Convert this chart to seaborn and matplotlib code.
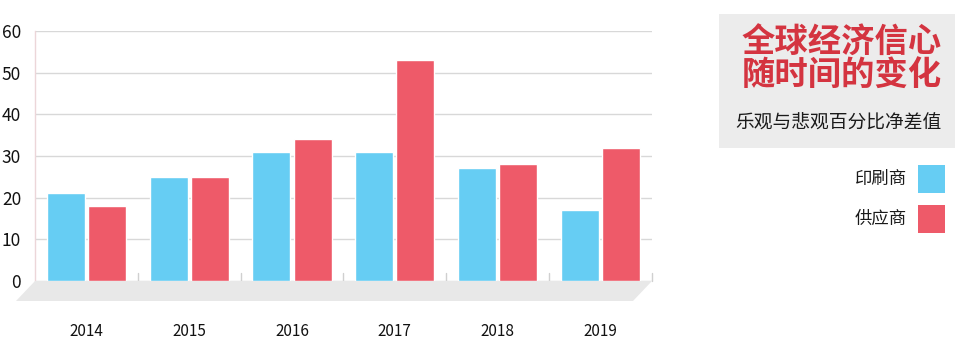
import pandas as pd
import matplotlib.pyplot as plt
import seaborn as sns
from matplotlib.patches import Polygon, Rectangle

years = ["2014", "2015", "2016", "2017", "2018", "2019"]
printers = [21, 25, 31, 31, 27, 17]
suppliers = [18, 25, 34, 53, 28, 32]
series_names = ["印刷商", "供应商"]
yticks = [0, 10, 20, 30, 40, 50, 60]

blue = "#66cdf3"
red = "#ee5a69"

sns.set_theme(style="white")
plt.rcParams['font.family'] = ['Noto Sans CJK SC', 'DejaVu Sans']

df = pd.DataFrame({
    "year": years * 2,
    "value": printers + suppliers,
    "series": [series_names[0]] * len(years) + [series_names[1]] * len(years),
})

fig = plt.figure(figsize=(9.58, 3.62), dpi=100)
ax = fig.add_axes([0.0365, 0.2238, 0.644, 0.6906])

# floor under the bars
floor = Polygon([(35, 81), (652, 81), (633, 61), (16, 61)], closed=True,
                transform=None, facecolor="#e8e8e8", edgecolor="none", zorder=0)
fig.patches.append(floor)

sns.barplot(data=df, x="year", y="value", hue="series", palette=[blue, red],
            width=0.8, gap=0.075, saturation=1, legend=False, ax=ax, zorder=3)

ax.set_xlim(-0.5, 5.5)
ax.set_ylim(0, 60)
ax.set_yticks(yticks)
ax.yaxis.grid(True, color="#d8d8d8", linewidth=1)
ax.set_axisbelow(True)
for s in ["top", "right", "bottom"]:
    ax.spines[s].set_visible(False)
ax.spines["left"].set_color("#ecd6d9")
ax.spines["left"].set_linewidth(1)
ax.tick_params(axis="y", length=0, pad=10, labelsize=12.5, labelcolor="#111111")
ax.tick_params(axis="x", length=0, pad=30, labelsize=11, labelcolor="#111111")
for lab in ax.get_xticklabels() + ax.get_yticklabels():
    lab.set_fontweight("medium")
ax.set_xlabel("")
ax.set_ylabel("")

# little separators between groups
for i in range(len(years)):
    ax.plot([i + 0.5, i + 0.5], [0, 2], color="#d0d0d0", lw=1, zorder=2, clip_on=False)

# title box
fig.patches.append(Rectangle((0.7505, 0.591), 0.2463, 0.370, transform=fig.transFigure,
                             facecolor="#ececec", edgecolor="none", zorder=0))
fig.text(0.879, 0.835, "全球经济信心\n随时间的变化", color="#d43440", fontsize=24,
         fontweight="heavy", ha="center", va="center", linespacing=0.98)
fig.text(0.8755, 0.663, "乐观与悲观百分比净差值", color="#1a1a1a", fontsize=13.5,
         ha="center", va="center")

# legend
colors = [blue, red]
ys = [179, 219]
for name, c, y in zip(series_names, colors, ys):
    yf = (362 - y) / 362
    fig.patches.append(Rectangle((918 / 958, yf - 14 / 362), 27 / 958, 28 / 362,
                                 transform=fig.transFigure, facecolor=c, edgecolor="none"))
    fig.text(907 / 958, yf, name, fontsize=12.5, color="#1a1a1a", ha="right", va="center")

fig.savefig("out.png", dpi=100)
